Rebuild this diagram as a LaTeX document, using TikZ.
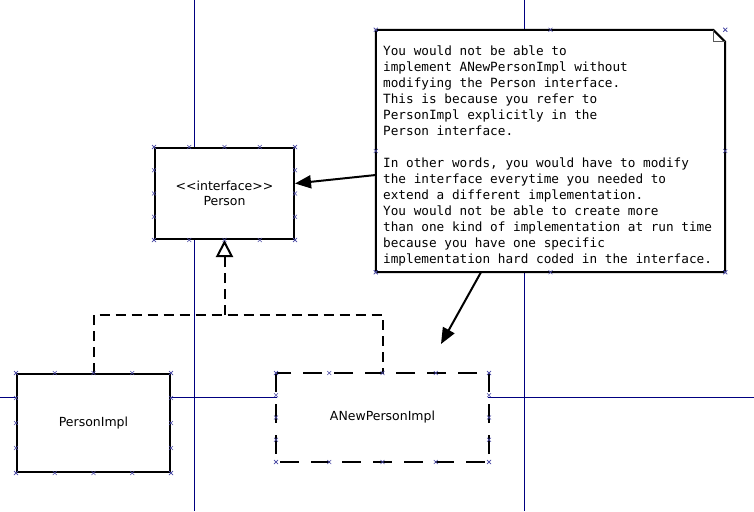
\documentclass[tikz,border=0pt]{standalone}
\usepackage{fontspec}
\setmainfont{DejaVu Sans}
\newfontfamily\notefont{DejaVu Sans Mono}
\usetikzlibrary{arrows.meta,calc}
\definecolor{gridnavy}{RGB}{0,0,128}
\tikzset{
  gridline/.style={draw=gridnavy, line width=0.8pt},
  cls/.style={draw=black, fill=white, line width=2pt, align=center, inner sep=0pt,
    font=\fontsize{12.5}{15}\selectfont},
  dashborder/.style={draw=black, line width=2pt, dash pattern=on 19pt off 12pt},
  real/.style={draw=black, line width=2pt, dash pattern=on 10pt off 6pt},
  notelink/.style={draw=black, line width=2pt, -{Triangle[length=16pt,width=13pt]}},
  xmk/.style={draw=gridnavy!70, line width=0.5pt},
}
\newcommand\boxmarks[2]{%
  \foreach \t in {#2} {
    \draw[xmk] ($(#1.north west)!\t!(#1.north east)$) +(-2,-2) -- +(2,2) +(-2,2) -- +(2,-2);
    \draw[xmk] ($(#1.south west)!\t!(#1.south east)$) +(-2,-2) -- +(2,2) +(-2,2) -- +(2,-2);
    \draw[xmk] ($(#1.north west)!\t!(#1.south west)$) +(-2,-2) -- +(2,2) +(-2,2) -- +(2,-2);
    \draw[xmk] ($(#1.north east)!\t!(#1.south east)$) +(-2,-2) -- +(2,2) +(-2,2) -- +(2,-2);
  }}
\begin{document}
\begin{tikzpicture}[x=1pt,y=-1pt]
\useasboundingbox (0,0) rectangle (754,511);
\fill[white] (0,0) rectangle (754,511);
% grid lines
\draw[gridline] (194,0) -- (194,511);
\draw[gridline] (524,0) -- (524,511);
\draw[gridline] (0,397) -- (754,397);

% classes
\node[cls, minimum width=139pt, minimum height=91pt] (person) at (224.5,193.5)
  {<{}<interface>{}>\\Person};
\node[cls, minimum width=153pt, minimum height=98pt] (pimpl) at (93.5,423) {PersonImpl};
\node[cls, draw=none, minimum width=211pt, minimum height=87pt] (anew) at (382.5,417.5) {ANewPersonImpl};
\draw[dashborder] (anew.north west) rectangle (anew.south east);

% note
\node[minimum width=349pt, minimum height=242pt, inner sep=0pt] (note) at (550.5,151) {};
\draw[fill=white, line width=2pt, line join=miter]
  (note.north west) -- ([xshift=-12pt]note.north east) -- ([yshift=-12pt]note.north east)
  -- (note.south east) -- (note.south west) -- cycle;
\draw[gray!70!black, line width=1.2pt] ([xshift=-12pt]note.north east) -- ([xshift=-12pt,yshift=-12pt]note.north east) -- ([yshift=-12pt]note.north east);
\node[anchor=north west, inner sep=0pt, align=left,
  font=\notefont\fontsize{12.7}{16}\selectfont] (notetext) at (383,46)
  {You would not be able to\\
   implement ANewPersonImpl without\\
   modifying the Person interface.\\
   This is because you refer to\\
   PersonImpl explicitly in the\\
   Person interface.\\[16pt]
   In other words, you would have to modify\\
   the interface everytime you needed to\\
   extend a different implementation.\\
   You would not be able to create more\\
   than one kind of implementation at run time\\
   because you have one specific\\
   implementation hard coded in the interface.};

% note links
\coordinate (tip) at (441,344);
\draw[notelink] ([yshift=-24pt]note.west) -- ([yshift=10pt]person.east);
\draw[notelink] ([xshift=-69.5pt]note.south) -- (tip);

% realization
\coordinate (bend) at (0,315);
\draw[real] (pimpl.north) |- (bend -| anew.north) -- (anew.north);
\draw[real, -{Triangle[open, length=17pt, width=17pt, fill=white]}, line join=miter]
  (bend -| person.south) -- (person.south);

% editor marks
\boxmarks{person}{0,0.25,0.5,0.75,1}
\boxmarks{pimpl}{0,0.25,0.5,0.75,1}
\boxmarks{anew}{0,0.25,0.5,0.75,1}
\boxmarks{note}{0,0.5,1}
\end{tikzpicture}
\end{document}
